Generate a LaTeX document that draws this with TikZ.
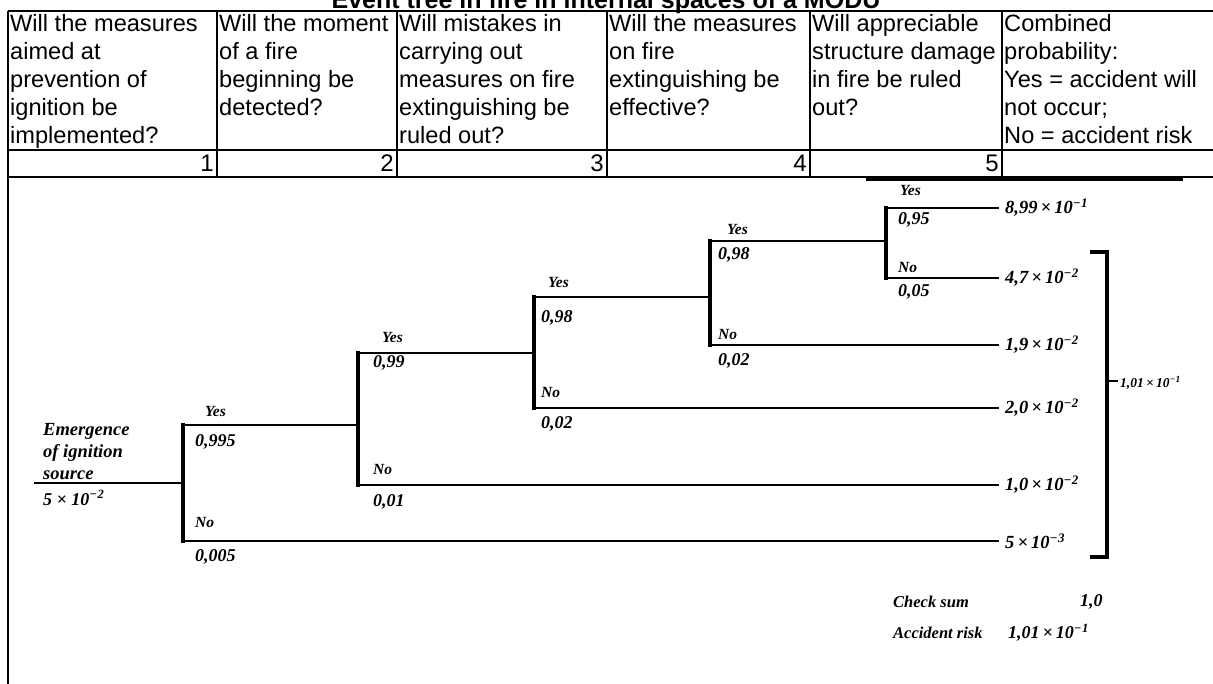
\documentclass[tikz,border=0pt]{standalone}
\usepackage{fontspec}
\setmainfont{Liberation Serif}
\newfontfamily\arial{Liberation Sans}
\begin{document}
\begin{tikzpicture}[x=1pt,y=-1pt,
  hdr/.style={font=\arial\fontsize{23.6}{28}\selectfont, anchor=north west, align=left, inner sep=0pt},
  num/.style={font=\arial\fontsize{24}{28}\selectfont, anchor=base east, inner sep=0pt},
  tbl/.style={line width=2pt},
  hz/.style={line width=2.6pt, line cap=rect},
  vt/.style={line width=3.6pt, line cap=rect},
  yn/.style={font=\bfseries\itshape\fontsize{15.5}{17}\selectfont, anchor=west, inner sep=0pt},
  pr/.style={font=\bfseries\itshape\fontsize{18}{20}\selectfont, anchor=west, inner sep=0pt},
  leaf/.style={font=\itshape\bfseries\fontsize{18.5}{20}\selectfont, anchor=west, inner ysep=0pt, inner xsep=7pt},
  txt/.style={font=\bfseries\itshape\fontsize{18.5}{22}\selectfont, anchor=west, align=left, inner sep=0pt},
  sm/.style={font=\bfseries\itshape\fontsize{16.5}{18}\selectfont, anchor=west, inner sep=0pt}
]
\useasboundingbox (0,0) rectangle (1213,684);
% title
\node[font=\arial\bfseries\fontsize{25}{28}\selectfont, anchor=base, inner sep=0pt] (title) at (606,9) {Event tree in fire in internal spaces of a MODU};
% table
\draw[tbl] (8,11.5) -- (1213,11.5);
\draw[tbl] (8,150) -- (1213,150);
\draw[tbl] (8,177) -- (1213,177);
\draw[line width=3pt] (866,179.5) -- (1183,179.5);
\draw[tbl] (8,11.5) -- (8,684);
\foreach \x in {217,397,607,810,1002} \draw[tbl] (\x,11.5) -- (\x,177);
\node[hdr] (h1) at (10,14) {Will the measures\\aimed at\\prevention of\\ignition be\\implemented?};
\node[hdr] (h2) at (219,14) {Will the moment\\of a fire\\beginning be\\detected?};
\node[hdr] (h3) at (399,14) {Will mistakes in\\carrying out\\measures on fire\\extinguishing be\\ruled out?};
\node[hdr] (h4) at (609,14) {Will the measures\\on fire\\extinguishing be\\effective?};
\node[hdr] (h5) at (812,14) {Will appreciable\\structure damage\\in fire be ruled\\out?};
\node[hdr] (h6) at (1004,14) {Combined\\probability:\\Yes = accident will\\not occur;\\No = accident risk};
\node[num] (n1) at (214,172) {1};
\node[num] (n2) at (394,172) {2};
\node[num] (n3) at (604,172) {3};
\node[num] (n4) at (807,172) {4};
\node[num] (n5) at (999,172) {5};
% tree coordinates
\coordinate (r0) at (35,483);
\coordinate (b1) at (183,483);
\coordinate (b1t) at (183,425); \coordinate (b1b) at (183,541);
\coordinate (b2) at (358,425);
\coordinate (b2t) at (358,353); \coordinate (b2b) at (358,485);
\coordinate (b3) at (534,353);
\coordinate (b3t) at (534,297); \coordinate (b3b) at (534,408);
\coordinate (b4) at (710,297);
\coordinate (b4t) at (710,241); \coordinate (b4b) at (710,345);
\coordinate (b5) at (886,241);
\coordinate (b5t) at (886,208); \coordinate (b5b) at (886,278);
% leaf labels
\node[leaf] (e1) at (998,208) {8,99\,×\,10\textsuperscript{−\kern0.5pt1}};
\node[leaf] (e2) at (998,278) {4,7\,×\,10\textsuperscript{−\kern0.5pt2}};
\node[leaf] (e3) at (998,345) {1,9\,×\,10\textsuperscript{−\kern0.5pt2}};
\node[leaf] (e4) at (998,408) {2,0\,×\,10\textsuperscript{−\kern0.5pt2}};
\node[leaf] (e5) at (998,485) {1,0\,×\,10\textsuperscript{−\kern0.5pt2}};
\node[leaf] (e6) at (998,541) {5\,×\,10\textsuperscript{−\kern0.5pt3}};
% branches
\draw[hz] (r0) -- (b1);
\draw[vt] (b1t) -- (b1b);
\draw[hz] (b1t) -- (b2);
\draw[hz] (b1b) -- (e6.west);
\draw[vt] (b2t) -- (b2b);
\draw[hz] (b2t) -- (b3);
\draw[hz] (b2b) -- (e5.west);
\draw[vt] (b3t) -- (b3b);
\draw[hz] (b3t) -- (b4);
\draw[hz] (b3b) -- (e4.west);
\draw[vt] (b4t) -- (b4b);
\draw[hz] (b4t) -- (b5);
\draw[hz] (b4b) -- (e3.west);
\draw[vt] (b5t) -- (b5b);
\draw[hz] (b5t) -- (e1.west);
\draw[hz] (b5b) -- (e2.west);
% bracket
\coordinate (k1) at (1090,252); \coordinate (k2) at (1107,252);
\coordinate (k3) at (1107,557); \coordinate (k4) at (1090,557);
\coordinate (km) at (1107,381); \coordinate (kt) at (1118,381);
\draw[line width=3.4pt] (k1) -- (k2) -- (k3) -- (k4);
\draw[line width=2.4pt] (km) -- (kt);
\node[font=\itshape\bfseries\fontsize{13.5}{15}\selectfont, anchor=west, inner sep=0pt] (sum) at (1120,383) {1,01\,×\,10\textsuperscript{−\kern0.5pt1}};
% root labels
\node[txt] (em) at (43,452) {Emergence\\of ignition\\source};
\node[pr] (p0) at (43,498) {5 × 10\textsuperscript{−\kern0.5pt2}};
% stage 1
\node[yn] (y1) at (205,412) {Yes};
\node[pr] (q1) at (195,442) {0,995};
\node[yn] (m1) at (195,523) {No};
\node[pr] (s1) at (195,557) {0,005};
% stage 2
\node[yn] (y2) at (382,338) {Yes};
\node[pr] (q2) at (373,363) {0,99};
\node[yn] (m2) at (373,470) {No};
\node[pr] (s2) at (373,502) {0,01};
% stage 3
\node[yn] (y3) at (548,283) {Yes};
\node[pr] (q3) at (541,318) {0,98};
\node[yn] (m3) at (541,393) {No};
\node[pr] (s3) at (541,424) {0,02};
% stage 4
\node[yn] (y4) at (727,230) {Yes};
\node[pr] (q4) at (718,255) {0,98};
\node[yn] (m4) at (718,335) {No};
\node[pr] (s4) at (718,361) {0,02};
% stage 5
\node[yn] (y5) at (900,191) {Yes};
\node[pr] (q5) at (898,220) {0,95};
\node[yn] (m5) at (898,268) {No};
\node[pr] (s5) at (898,292) {0,05};
% check sum
\node[sm] (cs) at (893,602) {Check sum};
\node[pr] (cv) at (1080,602) {1,0};
\node[sm] (ar) at (893,633) {Accident risk};
\node[pr] (av) at (1008,633) {1,01\,×\,10\textsuperscript{−\kern0.5pt1}};
\end{tikzpicture}
\end{document}
